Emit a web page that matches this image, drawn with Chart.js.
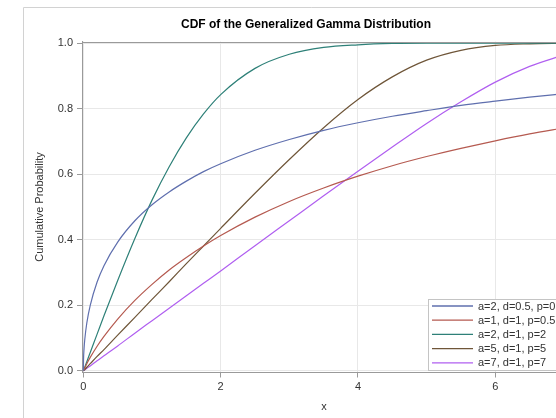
<!DOCTYPE html>
<html>
<head>
<meta charset="utf-8">
<script src="https://cdn.jsdelivr.net/npm/chart.js@4.4.1/dist/chart.umd.min.js"></script>
<style>
  html, body { margin: 0; padding: 0; overflow: hidden; background: #fff; }
  #wrap { width: 600px; height: 418px; }
</style>
</head>
<body>
<div id="wrap"><canvas id="c" width="600" height="418"></canvas></div>
<script>
// Evaluation points along x
const xValues = [0, 0.002, 0.01, 0.02, 0.05, 0.1, 0.2, 0.3, 0.5, 0.75, 1, 1.25, 1.5, 1.75,
                 2, 2.5, 3, 3.5, 4, 4.5, 5, 5.5, 6, 6.5, 7];

const seriesLabels = ['a=2, d=0.5, p=0.5', 'a=1, d=1, p=0.5', 'a=2, d=1, p=2',
                      'a=5, d=1, p=5', 'a=7, d=1, p=7'];

// Cumulative probability for each parameter set
const cdfA2D05P05 = [0, 0.031, 0.068, 0.095, 0.146, 0.200, 0.271, 0.321, 0.393, 0.458, 0.507,
                     0.546, 0.579, 0.608, 0.632, 0.673, 0.706, 0.734, 0.757, 0.777, 0.794,
                     0.810, 0.823, 0.835, 0.846];
const cdfA1D1P05   = [0, 0.001, 0.005, 0.009, 0.022, 0.041, 0.075, 0.105, 0.158, 0.215, 0.264,
                     0.308, 0.346, 0.381, 0.413, 0.469, 0.517, 0.558, 0.594, 0.626, 0.654,
                     0.679, 0.702, 0.723, 0.741];
const cdfA2D1P2    = [0, 0.001, 0.006, 0.011, 0.028, 0.056, 0.112, 0.168, 0.276, 0.404, 0.521,
                     0.623, 0.711, 0.784, 0.843, 0.923, 0.966, 0.987, 0.995, 0.999, 1.000,
                     1.000, 1.000, 1.000, 1.000];
const cdfA5D1P5    = [0, 0.0004, 0.002, 0.004, 0.011, 0.022, 0.044, 0.065, 0.109, 0.163, 0.218,
                     0.272, 0.327, 0.381, 0.435, 0.542, 0.645, 0.742, 0.828, 0.897, 0.948,
                     0.978, 0.993, 0.998, 1.000];
const cdfA7D1P7    = [0, 0.0003, 0.002, 0.003, 0.008, 0.015, 0.031, 0.046, 0.076, 0.115, 0.153,
                     0.191, 0.229, 0.267, 0.305, 0.382, 0.458, 0.534, 0.609, 0.683, 0.755,
                     0.821, 0.881, 0.929, 0.964];

const xTicks = [0, 2, 4, 6];
const yTicks = [0, 0.2, 0.4, 0.6, 0.8, 1.0];

const seriesColors = ['#5f6fae', '#b55a50', '#2e8078', '#6f5639', '#b05ff0'];
const seriesValues = [cdfA2D05P05, cdfA1D1P05, cdfA2D1P2, cdfA5D1P5, cdfA7D1P7];

const FONT = '"Liberation Sans", Arial, Helvetica, sans-serif';
const TEXT = '#333333';

const datasets = seriesValues.map((vals, i) => ({
  label: seriesLabels[i],
  data: xValues.map((x, j) => ({ x: x, y: vals[j] })),
  borderColor: seriesColors[i],
  backgroundColor: seriesColors[i],
  borderWidth: 1.2,
  pointRadius: 0,
  fill: false,
  cubicInterpolationMode: 'monotone'
}));

// Background, outer graph frame, plot frame, title and inset legend
const decorations = {
  id: 'decorations',
  beforeDraw(chart) {
    const ctx = chart.ctx;
    ctx.save();
    ctx.fillStyle = '#ffffff';
    ctx.fillRect(0, 0, chart.width, chart.height);
    ctx.strokeStyle = '#d2d2d2';
    ctx.lineWidth = 1;
    ctx.beginPath();
    ctx.moveTo(23.5, chart.height);
    ctx.lineTo(23.5, 7.5);
    ctx.lineTo(chart.width, 7.5);
    ctx.stroke();
    ctx.restore();
  },
  afterDatasetsDraw(chart) {
    const ctx = chart.ctx;
    const a = chart.chartArea;
    ctx.save();
    ctx.strokeStyle = '#9a9a9a';
    ctx.lineWidth = 1;
    ctx.beginPath();
    ctx.moveTo(a.left, Math.round(a.top) + 0.5);
    ctx.lineTo(a.right, Math.round(a.top) + 0.5);
    ctx.lineTo(a.right, a.bottom);
    ctx.stroke();

    // legend box
    const lx = 428.5, ly = 299.5, lw = 200, lh = 71;
    ctx.fillStyle = '#ffffff';
    ctx.fillRect(lx, ly, lw, lh);
    ctx.strokeStyle = '#c4c4c4';
    ctx.strokeRect(lx, ly, lw, lh);
    ctx.font = '11px ' + FONT;
    ctx.textBaseline = 'middle';
    ctx.textAlign = 'left';
    chart.data.datasets.forEach((ds, i) => {
      const y = 306 + i * 14.2;
      ctx.strokeStyle = ds.borderColor;
      ctx.lineWidth = 1.3;
      ctx.beginPath();
      ctx.moveTo(432, y);
      ctx.lineTo(473, y);
      ctx.stroke();
      ctx.fillStyle = TEXT;
      ctx.fillText(ds.label, 478, y + 0.5);
    });

    // title
    ctx.fillStyle = '#000000';
    ctx.font = 'bold 12px ' + FONT;
    ctx.textAlign = 'center';
    ctx.fillText('CDF of the Generalized Gamma Distribution', 306, 25);
    ctx.restore();
  }
};

new Chart(document.getElementById('c'), {
  type: 'line',
  data: { datasets: datasets },
  plugins: [decorations],
  options: {
    responsive: false,
    animation: false,
    devicePixelRatio: 1,
    layout: { padding: { left: 23, top: 41.5, right: 34, bottom: 0 } },
    plugins: {
      legend: { display: false },
      title: { display: false },
      tooltip: { enabled: false }
    },
    scales: {
      x: {
        type: 'linear',
        min: -0.02,
        max: 7.03,
        afterBuildTicks: s => { s.ticks = xTicks.map(v => ({ value: v })); },
        afterFit: s => { s.height = 45.5; },
        ticks: {
          font: { family: FONT, size: 11 },
          color: TEXT,
          padding: 3,
          maxRotation: 0,
          autoSkip: false,
          callback: v => String(v)
        },
        grid: { color: '#e8e8e8', lineWidth: 1, tickLength: 5, tickColor: '#9a9a9a' },
        border: { color: '#9a9a9a' },
        title: {
          display: true,
          text: 'x',
          font: { family: FONT, size: 11 },
          color: TEXT,
          padding: { top: 0, bottom: 4 }
        }
      },
      y: {
        type: 'linear',
        min: -0.005,
        max: 1.005,
        afterBuildTicks: s => { s.ticks = yTicks.map(v => ({ value: v })); },
        afterFit: s => { s.width = 59; },
        ticks: {
          font: { family: FONT, size: 11 },
          color: TEXT,
          padding: 4,
          autoSkip: false,
          callback: v => Number(v).toFixed(1)
        },
        grid: { color: '#e8e8e8', lineWidth: 1, tickLength: 5, tickColor: '#9a9a9a' },
        border: { color: '#9a9a9a' },
        title: {
          display: true,
          text: 'Cumulative Probability',
          font: { family: FONT, size: 11 },
          color: TEXT,
          padding: { top: 10, bottom: 0 }
        }
      }
    }
  }
});
</script>
</body>
</html>
